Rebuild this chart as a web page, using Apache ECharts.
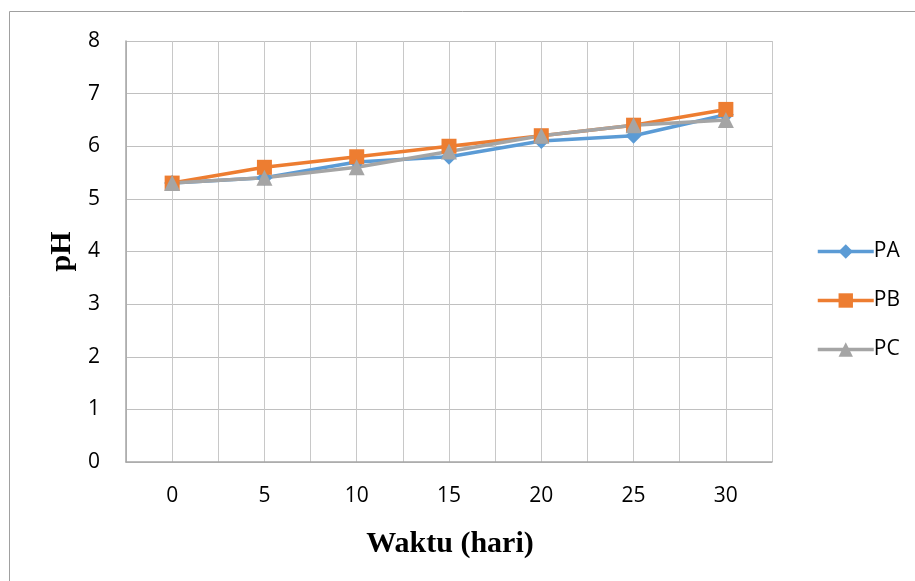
<!DOCTYPE html>
<html><head><meta charset="utf-8">
<script src="https://cdn.jsdelivr.net/npm/echarts@6/dist/echarts.min.js"></script>
<style>html,body{margin:0;padding:0;background:#fff}#c{width:915px;height:581px}</style>
</head><body><div id="c"></div>
<script>
const days = [0, 5, 10, 15, 20, 25, 30];
const PA = [5.3, 5.4, 5.7, 5.8, 6.1, 6.2, 6.6];
const PB = [5.3, 5.6, 5.8, 6.0, 6.2, 6.4, 6.7];
const PC = [5.3, 5.4, 5.6, 5.9, 6.2, 6.4, 6.5];
const yTicks = [0, 1, 2, 3, 4, 5, 6, 7, 8];
const xLabels = ['0', '5', '10', '15', '20', '25', '30'];

const chart = echarts.init(document.getElementById('c'), null, {renderer: 'canvas'});
const lab = {fontFamily: 'Open Sans', fontSize: 21, color: '#000'};
function pts(arr){ return days.map((d,i)=>[d, arr[i]]); }
const mk = (name, data, color, symbol, size) => ({
  name, type: 'line', data: pts(data), symbol, symbolSize: size,
  lineStyle: {color, width: 3.5}, itemStyle: {color}, color
});
chart.setOption({
  animation: false,
  graphic: [
    {type: 'line', shape: {x1: 9.5, y1: 11.5, x2: 915, y2: 11.5}, style: {stroke: '#a0a0a0', lineWidth: 1}},
    {type: 'line', shape: {x1: 9.5, y1: 11.5, x2: 9.5, y2: 581}, style: {stroke: '#a0a0a0', lineWidth: 1}},
    {type: 'text', x: 450, y: 544, style: {text: 'Waktu (hari)', font: 'bold 30px "Liberation Serif"', fill: '#000', align: 'center', verticalAlign: 'middle'}}
  ],
  grid: {left: 126, right: 915 - 772, top: 41, bottom: 581 - 462, containLabel: false},
  legend: {
    orient: 'vertical', left: 811, top: 236, itemWidth: 56, itemHeight: 18, itemGap: 28,
    lineStyle: {width: 3.5},
    textStyle: {fontFamily: 'Open Sans', fontSize: 21, color: '#000', lineHeight: 18, padding: [0,0,0,-5]},
    data: ['PA', 'PB', 'PC']
  },
  xAxis: {
    type: 'value', min: -2.5, max: 32.5, interval: 2.5,
    axisLine: {show: true, onZero: false, lineStyle: {color: '#a6a6a6', width: 1.5}},
    axisTick: {show: false},
    splitLine: {show: true, lineStyle: {color: '#c8c8c8', width: 1}},
    axisLabel: Object.assign({}, lab, {margin: 24, showMinLabel: true, showMaxLabel: true,
      formatter: v => { const i = days.indexOf(Math.round(v*10)/10); return i >= 0 ? xLabels[i] : ''; }})
  },
  yAxis: {
    type: 'value', min: yTicks[0], max: yTicks[yTicks.length-1], interval: 1,
    name: 'pH', nameLocation: 'middle', nameGap: 49, nameRotate: 90,
    nameTextStyle: {fontFamily: 'Liberation Serif', fontWeight: 'bold', fontSize: 30, color: '#000'},
    axisLine: {show: true, onZero: false, lineStyle: {color: '#a6a6a6', width: 1.5}},
    axisTick: {show: false},
    splitLine: {show: true, lineStyle: {color: '#c0c0c0', width: 1}},
    axisLabel: Object.assign({}, lab, {margin: 26})
  },
  series: [
    mk('PA', PA, '#5B9BD5', 'diamond', 16),
    mk('PB', PB, '#ED7D31', 'rect', 15),
    mk('PC', PC, '#A5A5A5', 'triangle', 16)
  ]
});
</script></body></html>
